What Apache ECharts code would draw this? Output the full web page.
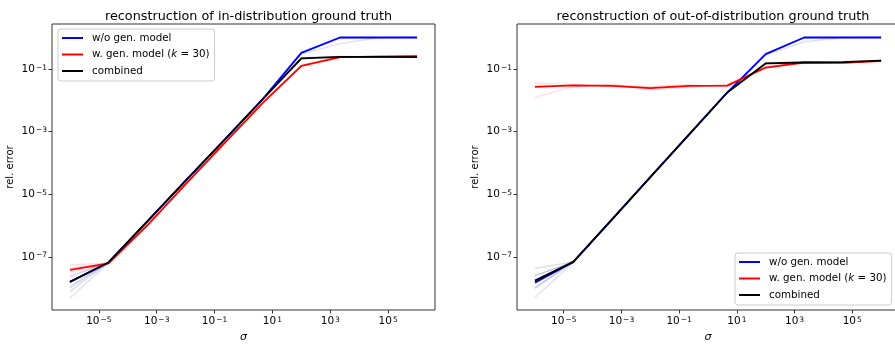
<!DOCTYPE html>
<html>
<head>
<meta charset="utf-8">
<script src="https://cdn.jsdelivr.net/npm/echarts@6/dist/echarts.min.js"></script>
<style>html,body{margin:0;padding:0;background:#fff}#c{width:895px;height:345px}</style>
</head>
<body>
<div id="c"></div>
<script>
// sigma values (x)
const sigma = [1e-6, 2.154e-5, 4.642e-4, 1e-2, 0.2154, 4.642, 100, 2154, 46416, 1e6];
const xTicks = [1e-5, 1e-3, 1e-1, 1e1, 1e3, 1e5];
const yTicks = [1e-7, 1e-5, 1e-3, 1e-1];
const names = ['w/o gen. model', 'w. gen. model (k = 30)', 'combined'];
const titles = ['reconstruction of in-distribution ground truth', 'reconstruction of out-of-distribution ground truth'];

// in-distribution (left)
const inBlue  = [1.58e-8, 6.6e-8, 1.32e-6, 2.7e-5, 5.4e-4, 1.1e-2, 0.33, 1.02, 1.02, 1.02];
const inRed   = [3.8e-8, 6.2e-8, 1.0e-6, 2.1e-5, 4.2e-4, 8.3e-3, 0.126, 0.24, 0.25, 0.26];
const inBlack = [1.58e-8, 6.6e-8, 1.32e-6, 2.7e-5, 5.4e-4, 1.1e-2, 0.22, 0.245, 0.245, 0.24];
const inBlueRuns = [
  [4.8e-9, 6.4e-8, 1.3e-6, 2.6e-5, 5.3e-4, 1.08e-2, 0.30, 0.65, 1.0, 1.02],
  [1.0e-8, 6.8e-8, 1.35e-6, 2.75e-5, 5.5e-4, 1.12e-2, 0.35, 1.0, 1.02, 1.02],
  [2.5e-8, 6.5e-8, 1.32e-6, 2.7e-5, 5.4e-4, 1.1e-2, 0.32, 0.95, 1.0, 1.02]
];
const inBlackRuns = [
  [7.8e-9, 6.5e-8, 1.3e-6, 2.65e-5, 5.3e-4, 1.08e-2, 0.21, 0.24, 0.25, 0.25],
  [1.12e-8, 6.7e-8, 1.34e-6, 2.72e-5, 5.45e-4, 1.11e-2, 0.23, 0.25, 0.24, 0.245],
  [2.24e-8, 6.6e-8, 1.32e-6, 2.7e-5, 5.4e-4, 1.1e-2, 0.22, 0.245, 0.25, 0.24]
];
const inRedRuns = [
  [5.5e-8, 6.3e-8, 1.02e-6, 2.12e-5, 4.25e-4, 8.4e-3, 0.12, 0.23, 0.26, 0.27],
  [4.5e-8, 6.1e-8, 0.98e-6, 2.08e-5, 4.15e-4, 8.2e-3, 0.13, 0.25, 0.25, 0.25],
  [3.16e-8, 6.2e-8, 1.0e-6, 2.1e-5, 4.2e-4, 8.3e-3, 0.125, 0.24, 0.245, 0.27]
];

// out-of-distribution (right)
const outBlue  = [1.5e-8, 6.9e-8, 1.55e-6, 3.5e-5, 7.9e-4, 1.78e-2, 0.30, 1.02, 1.02, 1.02];
const outRed   = [0.027, 0.030, 0.029, 0.0245, 0.029, 0.0295, 0.112, 0.162, 0.158, 0.182];
const outBlack = [1.74e-8, 6.9e-8, 1.55e-6, 3.5e-5, 7.9e-4, 1.78e-2, 0.151, 0.162, 0.166, 0.186];
const outBlueRuns = [
  [5.0e-9, 6.6e-8, 1.5e-6, 3.4e-5, 7.7e-4, 1.75e-2, 0.28, 0.75, 1.0, 1.02],
  [1.0e-8, 7.1e-8, 1.6e-6, 3.6e-5, 8.1e-4, 1.8e-2, 0.32, 1.0, 1.02, 1.02],
  [2.5e-8, 6.8e-8, 1.55e-6, 3.5e-5, 7.9e-4, 1.78e-2, 0.31, 0.98, 1.02, 1.02]
];
const outBlackRuns = [
  [4.2e-8, 7.0e-8, 1.56e-6, 3.52e-5, 7.95e-4, 1.8e-2, 0.16, 0.17, 0.17, 0.19],
  [2.5e-8, 6.8e-8, 1.54e-6, 3.48e-5, 7.85e-4, 1.76e-2, 0.155, 0.165, 0.16, 0.18],
  [1.0e-8, 6.9e-8, 1.55e-6, 3.5e-5, 7.9e-4, 1.78e-2, 0.145, 0.155, 0.16, 0.185]
];
const outRedRuns = [
  [0.0123, 0.028, 0.031, 0.026, 0.027, 0.031, 0.105, 0.17, 0.15, 0.175],
  [0.035, 0.032, 0.027, 0.028, 0.032, 0.027, 0.12, 0.15, 0.17, 0.19],
  [0.031, 0.026, 0.033, 0.022, 0.026, 0.033, 0.115, 0.175, 0.165, 0.17]
];

const FONT = 'DejaVu Sans';
const BLUE = '#0000ff', RED = '#ff0000', BLACK = '#000000';

function pairs(ys) { return sigma.map((s, i) => [s, ys[i]]); }
function fmt(v) {
  const e = Math.round(Math.log10(v));
  return '10{s|' + (e < 0 ? '\u2212' + (-e) : String(e)) + '}';
}
const supRich = { s: { fontSize: 7.5, fontFamily: FONT, color: '#000', verticalAlign: 'top', padding: [0, 0, 2, 1] } };

function faint(runs, color, gi) {
  return runs.map((r, k) => ({
    type: 'line', name: 'run' + gi + color + k, xAxisIndex: gi, yAxisIndex: gi,
    data: pairs(r), symbol: 'none', silent: true,
    lineStyle: { color: color, width: 1.5, opacity: 0.12 }, z: 1
  }));
}
function main(ys, color, name, gi) {
  return { type: 'line', name: name, xAxisIndex: gi, yAxisIndex: gi, data: pairs(ys), symbol: 'none',
    lineStyle: { color: color, width: 1.8 }, itemStyle: { color: color }, z: 3 };
}

const grids = [
  { left: 52, top: 24, width: 383, height: 286 },
  { left: 517, top: 24, width: 382, height: 286 }
];

function xAxisOpt(gi) {
  return {
    type: 'log', logBase: 10, gridIndex: gi, min: Math.pow(10, -6.62), max: Math.pow(10, 6.62),
    name: 'σ', nameLocation: 'middle', nameGap: 21,
    nameTextStyle: { fontFamily: FONT, fontSize: 11, fontStyle: 'italic', color: '#000' },
    axisLine: { show: false }, splitLine: { show: false }, minorTick: { show: false },
    axisTick: { show: true, length: 3.5, customValues: xTicks, lineStyle: { color: '#333', width: 1 } },
    axisLabel: { customValues: xTicks, formatter: fmt, rich: supRich, fontFamily: FONT, fontSize: 10.5, color: '#000', margin: 6 }
  };
}
function yAxisOpt(gi) {
  return {
    type: 'log', logBase: 10, gridIndex: gi, min: Math.pow(10, -8.70), max: Math.pow(10, 0.44),
    name: 'rel. error', nameLocation: 'middle', nameGap: 37,
    nameTextStyle: { fontFamily: FONT, fontSize: 10, color: '#000' },
    axisLine: { show: false }, splitLine: { show: false }, minorTick: { show: false },
    axisTick: { show: true, length: 3.5, customValues: yTicks, lineStyle: { color: '#333', width: 1 } },
    axisLabel: { customValues: yTicks, formatter: fmt, rich: supRich, fontFamily: FONT, fontSize: 10.5, color: '#000', margin: 5 }
  };
}
function legendOpt(left, top) {
  return {
    left: left, top: top, orient: 'vertical', itemWidth: 21, itemHeight: 2, itemGap: 6.5,
    padding: [4, 5, 5, 4], borderColor: '#cccccc', borderWidth: 1, borderRadius: 3,
    backgroundColor: 'rgba(255,255,255,0.8)',
    data: names.map(n => ({ name: n, icon: 'rect' })),
    formatter: n => n === names[1] ? 'w. gen. model ({i|k} = 30)' : n,
    textStyle: { fontFamily: FONT, fontSize: 10.3, color: '#000', padding: [0, 0, 0, 4],
      rich: { i: { fontFamily: FONT, fontSize: 10.3, fontStyle: 'italic', color: '#000' } } },
    selectedMode: false
  };
}

const series = [].concat(
  faint(inBlueRuns, BLUE, 0), faint(inRedRuns, RED, 0), faint(inBlackRuns, BLACK, 0),
  [main(inBlue, BLUE, names[0], 0), main(inRed, RED, names[1], 0), main(inBlack, BLACK, names[2], 0)],
  faint(outBlueRuns, BLUE, 1), faint(outRedRuns, RED, 1), faint(outBlackRuns, BLACK, 1),
  [main(outBlue, BLUE, names[0], 1), main(outRed, RED, names[1], 1), main(outBlack, BLACK, names[2], 1)]
);

const chart = echarts.init(document.getElementById('c'), null, { renderer: 'canvas' });
chart.setOption({
  animation: false,
  backgroundColor: '#ffffff',
  title: [
    { text: titles[0], left: 243.5, top: 5, textAlign: 'center',
      textStyle: { fontFamily: FONT, fontSize: 12.8, fontWeight: 'normal', color: '#000' } },
    { text: titles[1], left: 708, top: 5, textAlign: 'center',
      textStyle: { fontFamily: FONT, fontSize: 12.8, fontWeight: 'normal', color: '#000' } }
  ],
  grid: grids.map(g => Object.assign({ show: true, borderColor: '#333', borderWidth: 1, backgroundColor: 'transparent',
    containLabel: false, outerBoundsMode: 'none' }, g)),
  xAxis: [xAxisOpt(0), xAxisOpt(1)],
  yAxis: [yAxisOpt(0), yAxisOpt(1)],
  legend: [legendOpt(58, 29), legendOpt(735, 253)],
  series: series
});
</script>
</body>
</html>
